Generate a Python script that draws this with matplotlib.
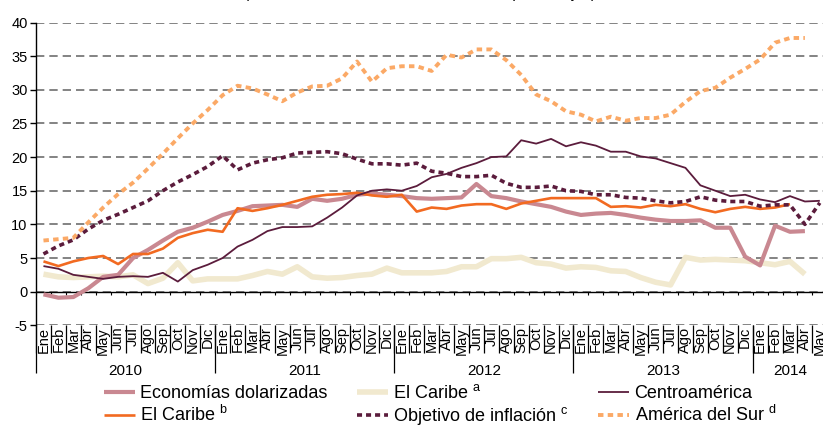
import matplotlib
matplotlib.use('Agg')
import matplotlib.pyplot as plt
from matplotlib.transforms import blended_transform_factory
from matplotlib.lines import Line2D
import numpy as np

plt.rcParams['font.family'] = ['Liberation Sans', 'DejaVu Sans']
plt.rcParams['axes.unicode_minus'] = False
plt.rcParams['mathtext.fontset'] = 'custom'
plt.rcParams['mathtext.rm'] = 'Liberation Sans'
plt.rcParams['mathtext.it'] = 'Liberation Sans:italic'

months = ['Ene', 'Feb', 'Mar', 'Abr', 'May', 'Jun', 'Jul', 'Ago', 'Sep', 'Oct', 'Nov', 'Dic']
years = ['2010', '2011', '2012', '2013', '2014']
months_per_year = [12, 12, 12, 12, 5]
month_labels = [m for n in months_per_year for m in months[:n]]

econ_dolar = [-0.4, -0.9, -0.8, 0.5, 2.2, 2.5, 5.0, 6.2, 7.6, 8.9, 9.5, 10.4,
              11.4, 12.0, 12.7, 12.8, 12.9, 12.6, 13.8, 13.5, 13.8, 14.4, 14.6, 14.4,
              14.2, 13.9, 13.8, 13.9, 14.0, 16.0, 14.2, 13.9, 13.4, 13.0, 12.6, 11.9,
              11.4, 11.6, 11.7, 11.4, 11.0, 10.7, 10.5, 10.5, 10.6, 9.5, 9.5, 5.2,
              3.9, 9.8, 8.9, 9.0]
caribe_a = [2.6, 2.2, 2.1, 2.2, 2.3, 2.2, 2.5, 1.2, 2.0, 4.3, 1.6, 1.9,
            1.9, 1.9, 2.4, 3.0, 2.6, 3.7, 2.2, 2.0, 2.1, 2.4, 2.6, 3.5,
            2.8, 2.8, 2.8, 3.0, 3.7, 3.7, 4.9, 4.9, 5.1, 4.3, 4.1, 3.5,
            3.7, 3.6, 3.1, 3.0, 2.1, 1.4, 1.0, 5.1, 4.7, 4.8, 4.7, 4.6,
            4.3, 4.0, 4.5, 2.6]
centro = [3.8, 3.4, 2.5, 2.2, 1.9, 2.2, 2.3, 2.2, 2.8, 1.5, 3.2, 4.0,
          5.0, 6.7, 7.7, 9.0, 9.6, 9.6, 9.7, 11.0, 12.5, 14.3, 15.0, 15.2,
          15.0, 15.7, 17.0, 17.5, 18.4, 19.1, 20.0, 20.1, 22.5, 22.0, 22.7, 21.6,
          22.2, 21.7, 20.8, 20.8, 20.1, 19.8, 19.1, 18.4, 15.8, 15.0, 14.2, 14.4,
          13.7, 13.3, 14.2, 13.4, 13.5]
caribe_b = [4.5, 3.8, 4.5, 5.0, 5.3, 4.1, 5.6, 5.6, 6.4, 8.0, 8.7, 9.2,
            8.9, 12.4, 12.0, 12.4, 12.9, 13.5, 14.1, 14.4, 14.5, 14.7, 14.3, 14.1,
            14.4, 11.9, 12.5, 12.3, 12.8, 13.0, 13.0, 12.3, 13.1, 13.5, 13.9, 13.9,
            13.9, 13.9, 12.6, 12.7, 12.5, 12.9, 12.7, 13.0, 12.3, 11.8, 12.3, 12.6,
            12.3, 12.5, 13.0]
objetivo = [5.6, 6.8, 7.7, 9.3, 10.6, 11.5, 12.5, 13.5, 15.0, 16.3, 17.4, 18.6,
            20.2, 18.1, 19.1, 19.6, 19.9, 20.6, 20.7, 20.8, 20.5, 19.7, 19.0, 19.0,
            18.8, 19.1, 17.9, 17.6, 17.1, 17.1, 17.3, 16.1, 15.5, 15.5, 15.7, 15.0,
            14.9, 14.4, 14.4, 14.0, 13.9, 13.5, 13.2, 13.4, 14.1, 13.6, 13.4, 13.4,
            12.7, 12.9, 12.9, 10.0, 13.2]
am_sur = [7.6, 7.8, 8.0, 10.3, 12.5, 14.5, 16.2, 18.3, 20.5, 22.8, 25.0, 27.0,
          29.2, 30.6, 30.2, 29.3, 28.3, 29.6, 30.5, 30.6, 31.7, 34.2, 31.2, 33.2,
          33.5, 33.5, 32.8, 35.2, 34.8, 36.0, 36.0, 34.4, 32.2, 29.3, 28.3, 26.8,
          26.3, 25.3, 26.0, 25.4, 25.8, 25.8, 26.3, 28.2, 29.8, 30.3, 31.8, 33.1,
          34.5, 37.0, 37.7, 37.7]

series_names = ['Economías dolarizadas', 'El Caribe $^{\\rm a}$', 'Centroamérica',
                'El Caribe $^{\\rm b}$', 'Objetivo de inflación $^{\\rm c}$',
                'América del Sur $^{\\rm d}$']

W, H = 823, 426
fig = plt.figure(figsize=(W / 100, H / 100), dpi=100)
n = len(month_labels)
left_px, bottom_px, top_px = 36, 325.3, 22.5
month_px = 14.93
ax = fig.add_axes([left_px / W, 1 - bottom_px / H, n * month_px / W, (bottom_px - top_px) / H])

x = np.arange(n)
c_pink = '#C98891'
c_beige = '#F1E9CF'
c_maroon = '#5B1C3C'
c_orange = '#F26A21'
c_lorange = '#FBA966'

ax.plot(x[:len(caribe_a)], caribe_a, color=c_beige, lw=4.0, solid_capstyle='butt', zorder=3)
ax.plot(x[:len(econ_dolar)], econ_dolar, color=c_pink, lw=3.0, solid_capstyle='butt', zorder=4)
ax.plot(x[:len(caribe_b)], caribe_b, color=c_orange, lw=1.9, solid_capstyle='butt', zorder=5)
ax.plot(x[:len(centro)], centro, color=c_maroon, lw=1.3, solid_capstyle='butt', zorder=6)
ax.plot(x[:len(objetivo)], objetivo, color=c_maroon, lw=2.6, linestyle=(0, (1.4, 1.1)),
        dash_capstyle='butt', zorder=6)
ax.plot(x[:len(am_sur)], am_sur, color=c_lorange, lw=2.8, linestyle=(0, (1.4, 1.1)),
        dash_capstyle='butt', zorder=6)

ax.set_xlim(-0.5, n - 0.5)
ax.set_ylim(-5, 40)
ax.set_yticks(np.arange(-5, 41, 5))
ax.tick_params(axis='y', labelsize=10.5, length=4, width=1, color='black', pad=2)
ax.set_xticks([])
for s in ['top', 'right', 'bottom']:
    ax.spines[s].set_visible(False)
ax.spines['left'].set_linewidth(1.0)
ax.yaxis.grid(True, color='#6E6E6E', linestyle=(0, (5, 3)), linewidth=1.2)
ax.set_axisbelow(True)

# zero line with small ticks
ax.axhline(0, color='black', lw=1.0, zorder=2)
bounds = np.arange(n + 1) - 0.5
ax.vlines(bounds, -0.45, 0, color='black', lw=0.8, zorder=2)

# category labels
tr = blended_transform_factory(ax.transData, ax.transAxes)
ax_h_px = bottom_px - top_px
for i, lab in enumerate(month_labels):
    ax.text(i, -1.5 / ax_h_px, lab, transform=tr, rotation=90, ha='center', va='top',
            fontsize=10.5, clip_on=False)
ax.vlines(bounds, -28.0 / ax_h_px, 0, transform=tr, color='black', lw=0.9, clip_on=False)
year_starts = np.concatenate([[0], np.cumsum(months_per_year)]) - 0.5
ax.vlines(year_starts[:-1], -48.0 / ax_h_px, 0, transform=tr, color='black', lw=0.9, clip_on=False)
for k, yr in enumerate(years):
    mid = (year_starts[k] + year_starts[k + 1]) / 2
    ax.text(mid, -46.0 / ax_h_px, yr, transform=tr, ha='center', va='center',
            fontsize=11, clip_on=False)

# clipped subtitle at the top
fig.text(0.51, 1 + 2.0 / H, '(Tasas de variación en doce meses, en porcentajes)',
         ha='center', va='baseline', fontsize=11)

handles = [
    Line2D([], [], color=c_pink, lw=3.0, solid_capstyle='butt'),
    Line2D([], [], color=c_orange, lw=1.9, solid_capstyle='butt'),
    Line2D([], [], color=c_beige, lw=4.0, solid_capstyle='butt'),
    Line2D([], [], color=c_maroon, lw=2.6, linestyle=(0, (1.4, 1.1)), dash_capstyle='butt'),
    Line2D([], [], color=c_maroon, lw=1.3, solid_capstyle='butt'),
    Line2D([], [], color=c_lorange, lw=2.8, linestyle=(0, (1.4, 1.1)), dash_capstyle='butt'),
]
labels = [series_names[0], series_names[3], series_names[1], series_names[4],
          series_names[2], series_names[5]]
fig.legend(handles, labels, loc='upper left', bbox_to_anchor=(104 / W, 1 - 384 / H),
           ncol=3, frameon=False, fontsize=13, handlelength=1.7, handletextpad=0.3,
           columnspacing=1.65, labelspacing=0.18, borderpad=0, borderaxespad=0)

fig.savefig('out.png', dpi=100)
